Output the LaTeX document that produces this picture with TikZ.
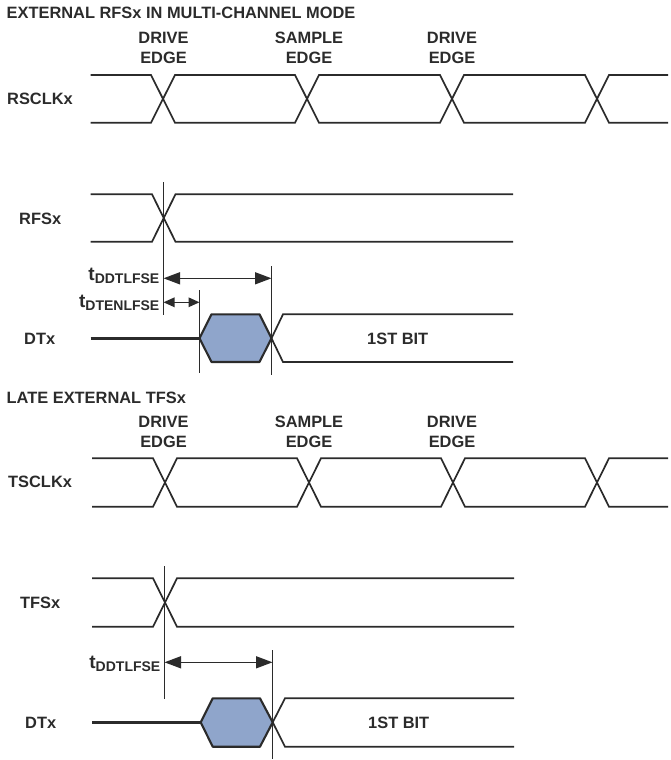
\documentclass[tikz,border=0pt]{standalone}
\usepackage{fontspec}
\setmainfont{Liberation Sans}
\usetikzlibrary{arrows.meta}
\definecolor{ink}{HTML}{2B2B2B}
\definecolor{hexfill}{HTML}{8FA5CB}
\tikzset{
  sig/.style={draw=ink,line width=1.7pt,line join=miter},
  bus/.style={draw=ink,line width=2.4pt},
  tick/.style={draw=ink,line width=1.4pt},
  hexa/.style={draw=ink,line width=2.1pt,fill=hexfill,line join=round},
  dimbig/.style={draw=ink,line width=1.5pt,{Triangle[length=16.5pt,width=12pt]}-{Triangle[length=16.5pt,width=12pt]}},
  dimsmall/.style={draw=ink,line width=1.5pt,{Triangle[length=11pt,width=9.5pt]}-{Triangle[length=11pt,width=9.5pt]}},
  lab/.style={text=ink,font=\fontsize{16.4}{19.8}\selectfont\bfseries,inner sep=0pt,align=center},
  leftlab/.style={lab,anchor=west},
  timelab/.style={lab,anchor=base east}
}
\newcommand{\tlab}[1]{{\fontsize{19}{19}\selectfont t}\raisebox{-3pt}{\fontsize{14}{14}\selectfont #1}}
\begin{document}
\begin{tikzpicture}[x=1pt,y=-1pt]
\useasboundingbox (0,0) rectangle (670,760);
% titles and labels
\node[leftlab] (title1) at (6.5,13) {EXTERNAL RFSx IN MULTI-CHANNEL MODE};
\node[lab] (e1) at (163.5,48) {DRIVE\\EDGE};
\node[lab] (e2) at (309,48) {SAMPLE\\EDGE};
\node[lab] (e3) at (452,48) {DRIVE\\EDGE};
\node[leftlab] (rsclk) at (7,98.5) {RSCLKx};
\node[leftlab] (rfs) at (19,219) {RFSx};
\node[leftlab] (dtx1) at (24,338.5) {DTx};
\node[leftlab] (title2) at (6.5,397.5) {LATE EXTERNAL TFSx};
\node[lab] (e4) at (163.5,432) {DRIVE\\EDGE};
\node[lab] (e5) at (309,432) {SAMPLE\\EDGE};
\node[lab] (e6) at (452,432) {DRIVE\\EDGE};
\node[leftlab] (tsclk) at (8,482) {TSCLKx};
\node[leftlab] (tfs) at (20,602.5) {TFSx};
\node[leftlab] (dtx2) at (25,722.5) {DTx};
\node[timelab] (t1) at (159.5,280) {\tlab{DDTLFSE}};
\node[timelab] (t2) at (159.5,307.5) {\tlab{DTENLFSE}};
\node[timelab] (t3) at (160.5,668) {\tlab{DDTLFSE}};
\node[leftlab] (bit1) at (367,338.5) {1ST BIT};
\node[leftlab] (bit2) at (368,722.5) {1ST BIT};
% upper clock
\draw[sig] (90.7,75) -- (151,75) -- (175,122.7) -- (295,122.7) -- (319,75) -- (440,75) -- (464,122.7) -- (585,122.7) -- (609,75) -- (668,75);
\draw[sig] (90.7,122.7) -- (151,122.7) -- (175,75) -- (295,75) -- (319,122.7) -- (440,122.7) -- (464,75) -- (585,75) -- (609,122.7) -- (668,122.7);
% RFS
\draw[sig] (90.7,194.3) -- (152,194.3) -- (175.5,241.7) -- (513,241.7);
\draw[sig] (90.7,241.7) -- (152,241.7) -- (175.5,194.3) -- (513,194.3);
% upper DTx
\draw[bus] (90.7,338.3) -- (199.5,338.3);
\draw[hexa] (199.5,338.3) -- (211.5,314.3) -- (259.5,314.3) -- (271.5,338.3) -- (259.5,362) -- (211.5,362) -- cycle;
\draw[sig] (271.5,338.3) -- (283,314.3) -- (513,314.3);
\draw[sig] (271.5,338.3) -- (283,362) -- (513,362);
% upper timing ticks
\coordinate (a1) at (163.5,182); \coordinate (a2) at (163.5,315);
\coordinate (b1) at (199.5,290); \coordinate (b2) at (199.5,373);
\coordinate (c1) at (271.5,266); \coordinate (c2) at (271.5,375);
\draw[tick] (a1) -- (a2);
\draw[tick] (b1) -- (b2);
\draw[tick] (c1) -- (c2);
\coordinate (d1) at (163.5,278.3); \coordinate (d2) at (271.5,278.3);
\coordinate (f1) at (163.5,302.3); \coordinate (f2) at (199.5,302.3);
\draw[dimbig] (d1) -- (d2);
\draw[dimsmall] (f1) -- (f2);
% lower clock
\draw[sig] (92,458.3) -- (153,458.3) -- (177,506.7) -- (297,506.7) -- (321,458.3) -- (441,458.3) -- (465,506.7) -- (585,506.7) -- (609,458.3) -- (668,458.3);
\draw[sig] (92,506.7) -- (153,506.7) -- (177,458.3) -- (297,458.3) -- (321,506.7) -- (441,506.7) -- (465,458.3) -- (585,458.3) -- (609,506.7) -- (668,506.7);
% TFS
\draw[sig] (92,578.3) -- (153,578.3) -- (177,626.7) -- (514,626.7);
\draw[sig] (92,626.7) -- (153,626.7) -- (177,578.3) -- (514,578.3);
% lower DTx
\draw[bus] (92,722.3) -- (200.7,722.3);
\draw[hexa] (200.7,722.3) -- (212.7,698.3) -- (260,698.3) -- (272.7,722.3) -- (260,746.7) -- (212.7,746.7) -- cycle;
\draw[sig] (272.7,722.3) -- (285,698.3) -- (514,698.3);
\draw[sig] (272.7,722.3) -- (285,746.7) -- (514,746.7);
% lower timing ticks
\coordinate (g1) at (164.5,566); \coordinate (g2) at (164.5,699);
\coordinate (h1) at (272.5,650); \coordinate (h2) at (272.5,759);
\draw[tick] (g1) -- (g2);
\draw[tick] (h1) -- (h2);
\coordinate (k1) at (164.5,662.3); \coordinate (k2) at (272.5,662.3);
\draw[dimbig] (k1) -- (k2);
\end{tikzpicture}
\end{document}
